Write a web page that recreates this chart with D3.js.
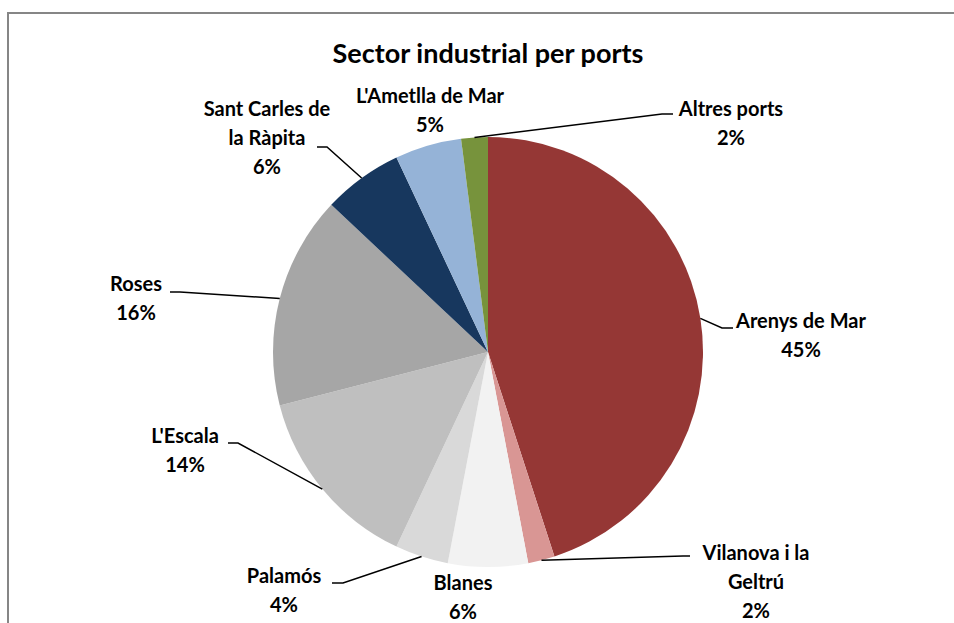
<!DOCTYPE html>
<html>
<head>
<meta charset="utf-8">
<script src="https://cdn.jsdelivr.net/npm/d3@7"></script>
<style>
  body { margin: 0; background: #fff; }
  text { font-family: Lato, "Open Sans", sans-serif; font-weight: bold; fill: #000; }
</style>
</head>
<body>
<div id="chart"></div>
<script>
// chart data
var title = "Sector industrial per ports";
var ports = ["Arenys de Mar", "Vilanova i la Geltrú", "Blanes", "Palamós", "L'Escala",
             "Roses", "Sant Carles de la Ràpita", "L'Ametlla de Mar", "Altres ports"];
var shares = [45, 2, 6, 4, 14, 16, 6, 5, 2];
var colors = ["#953735", "#D99694", "#F2F2F2", "#D9D9D9", "#BFBFBF",
              "#A6A6A6", "#17375E", "#95B3D7", "#77933C"];

// label layout (text centre x, first baseline, line breaks, leader elbow + end)
var labelLines = [["Arenys de Mar"], ["Vilanova i la", "Geltrú"], ["Blanes"], ["Palamós"], ["L'Escala"],
                  ["Roses"], ["Sant Carles de", "la Ràpita"], ["L'Ametlla de Mar"], ["Altres ports"]];
var labelX = [801, 756, 463, 284, 185, 136, 267, 430, 731];
var labelY = [328, 560, 590, 583, 443, 291, 116, 103, 116];
var leaderElbow = [[722, 328], [683, 556], null, [343, 583], [238, 443], [180, 292], [327, 147], null, [662, 114]];
var leaderEnd = [733, 690, null, 332, 228, 170, 317, null, 673];

function init() {
    var w = 954, h = 623;
    var cx = 488, cy = 352, r = 215;
    var lineH = 29;

    var svg = d3.select("#chart").append("svg")
        .attr("width", w)
        .attr("height", h);

    // chart frame
    svg.append("rect")
        .attr("x", 8).attr("y", 13)
        .attr("width", 980).attr("height", 660)
        .attr("fill", "#fff")
        .attr("stroke", "#868686")
        .attr("stroke-width", 2);

    svg.append("text")
        .attr("x", cx).attr("y", 63)
        .attr("text-anchor", "middle")
        .style("font-size", "27px")
        .text(title);

    var total = d3.sum(shares);
    var pct = d3.format(".0%");

    var pie = d3.pie().sort(null).value(function (d) { return d; });
    var arcs = pie(shares);
    var arc = d3.arc().innerRadius(0).outerRadius(r);

    var g = svg.append("g").attr("transform", "translate(" + cx + "," + cy + ")");
    g.selectAll("path.slice")
        .data(arcs)
        .enter()
        .append("path")
        .attr("class", "slice")
        .attr("d", arc)
        .attr("fill", function (d, i) { return colors[i]; });

    // leader lines
    svg.append("g").selectAll("path")
        .data(arcs.filter(function (d, i) { return leaderElbow[i]; }))
        .enter()
        .append("path")
        .attr("fill", "none")
        .attr("stroke", "#000")
        .attr("stroke-width", 1.5)
        .attr("d", function (d) {
            var i = d.index;
            var a = (d.startAngle + d.endAngle) / 2;
            var p0 = [cx + r * Math.sin(a), cy - r * Math.cos(a)];
            var e = leaderElbow[i];
            return "M" + p0 + "L" + e + "L" + [leaderEnd[i], e[1]];
        });

    // data labels
    var labels = svg.append("g").selectAll("text")
        .data(arcs)
        .enter()
        .append("text")
        .attr("text-anchor", "middle")
        .style("font-size", "20px")
        .attr("x", function (d, i) { return labelX[i]; })
        .attr("y", function (d, i) { return labelY[i]; });

    labels.each(function (d, i) {
        var t = d3.select(this);
        var lines = labelLines[i].concat([pct(d.data / total)]);
        lines.forEach(function (s, k) {
            t.append("tspan")
                .attr("x", labelX[i])
                .attr("y", labelY[i] + k * lineH)
                .text(s);
        });
    });
}
window.onload = init;
</script>
</body>
</html>
